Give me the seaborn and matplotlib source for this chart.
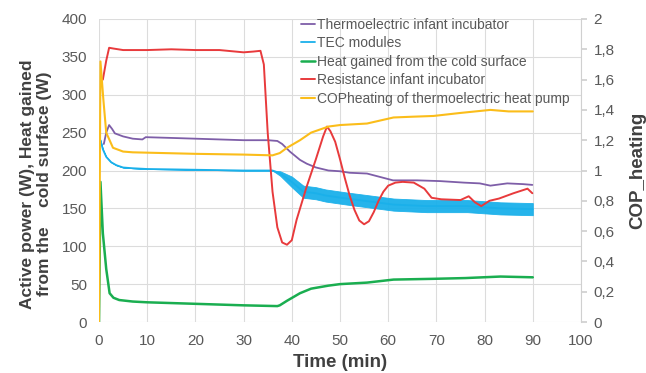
import matplotlib
matplotlib.use("Agg")
import matplotlib.pyplot as plt
import matplotlib.ticker as mticker
import seaborn as sns

# Thermoelectric infant incubator, active power (W)
thermo_t = [1, 1.5, 2.1, 2.7, 3.3, 5, 7, 9, 9.7, 15, 20, 25, 30, 35, 37, 38, 39.6, 41.7, 43.1, 45,
            47.6, 50, 52, 55.6, 58, 61, 66, 70.8, 75.7, 79, 81.2, 84.7, 88, 89.9]
thermo_w = [235, 250, 260, 255, 249, 245, 242, 241, 244, 243, 242, 241, 240, 240, 239, 235, 225, 214, 209, 204,
            200, 199, 197, 196, 192, 187, 187, 186, 184, 183, 180, 183, 182, 181]

# TEC modules, active power (W) and half-width of the noise band
tec_t = [0.3, 0.8, 1.5, 2.5, 3.6, 5, 7, 10, 20, 30, 36, 37.6, 40, 42.4, 45, 47, 51.4, 56.3, 61.1, 68, 76.4, 83.3, 90]
tec_w = [240, 228, 218, 211, 207, 204, 203, 202, 201, 200, 200, 196, 185, 172, 170, 167, 163, 159, 155, 153, 153, 150, 149]
tec_noise = [0, 0, 0, 0, 0, 0, 0, 0, 0, 0, 0, 3, 7, 8, 8, 8, 8, 8, 8, 8, 8, 8, 8]

# Heat gained from the cold surface (W)
cold_t = [0, 0.3, 0.8, 1.5, 2.2, 3, 4.2, 7, 10, 15, 20, 30, 37, 37.5, 39, 41.7, 44, 47.6, 50, 55.6,
          61.1, 69.4, 76, 83.3, 90]
cold_w = [0, 185, 117, 70, 38, 32, 29, 27, 26, 25, 24, 22, 21, 22, 28, 38, 44, 48, 50, 52,
          56, 57, 58, 60, 59]

# Resistance infant incubator, active power (W)
resist_t = [0.8, 1.5, 2.1, 3, 5, 10, 15, 20, 25, 30, 32, 33.5, 34.2, 35, 36, 37, 38, 39, 40, 41, 43, 45,
            46.5, 47.3, 48, 49, 50, 51, 52, 53, 54, 55, 56, 57, 58, 59, 60, 61.5, 63, 65.3, 67.5, 69,
            71, 75, 76.7, 78, 79.3, 81, 83, 86, 88.9, 89.9]
resist_w = [320, 345, 362, 361, 359, 359, 360, 359, 359, 356, 357, 358, 340, 250, 172, 125, 105, 102, 108, 135,
            177, 215, 245, 258, 252, 238, 215, 190, 167, 148, 134, 129, 133, 145, 160, 172, 180, 184, 185, 184,
            176, 164, 162, 161, 166, 158, 153, 160, 163, 170, 176, 170]

# COP heating of thermoelectric heat pump (right axis)
cop_t = [0, 0.3, 0.9, 1.5, 2.9, 5, 7, 20, 30, 36, 37.5, 39, 41.7, 44, 47.6, 50, 55.6, 61.1, 65, 69.4,
         75, 81.2, 85, 90]
cop_v = [0, 1.72, 1.47, 1.25, 1.15, 1.125, 1.12, 1.11, 1.105, 1.10, 1.115, 1.15, 1.20, 1.25, 1.29, 1.30, 1.31,
         1.35, 1.355, 1.36, 1.38, 1.40, 1.39, 1.39]

labels = ["Thermoelectric infant incubator", "TEC modules", "Heat gained from the cold surface",
          "Resistance infant incubator", "COPheating of thermoelectric heat pump"]
colors = ["#7e5ea8", "#1ab0ea", "#1aae50", "#e83a3c", "#fbbd1a"]

sns.set_theme(style="white")
plt.rcParams["font.family"] = ["Liberation Sans", "DejaVu Sans"]
tick_col = "#595959"
label_col = "#404040"
grid_col = "#dcdcdc"

fig = plt.figure(figsize=(6.46, 3.73), dpi=100)
ax = fig.add_axes([99 / 646, 1 - 322 / 373, 482 / 646, 303 / 373])
ax2 = ax.twinx()

ax.fill_between(tec_t, [w - n for w, n in zip(tec_w, tec_noise)], [w + n for w, n in zip(tec_w, tec_noise)],
                color=colors[1], linewidth=0.6, alpha=0.95)
sns.lineplot(x=tec_t, y=tec_w, ax=ax, color=colors[1], linewidth=1.3, label=labels[1])
sns.lineplot(x=cold_t, y=cold_w, ax=ax, color=colors[2], linewidth=1.8, label=labels[2])
sns.lineplot(x=thermo_t, y=thermo_w, ax=ax, color=colors[0], linewidth=1.3, label=labels[0])
sns.lineplot(x=resist_t, y=resist_w, ax=ax, color=colors[3], linewidth=1.4, label=labels[3])
sns.lineplot(x=cop_t, y=cop_v, ax=ax2, color=colors[4], linewidth=1.5, label=labels[4])

ax.set_xlim(0, 100)
ax.set_ylim(0, 400)
ax2.set_ylim(0, 2)
ax.set_xticks(range(0, 101, 10))
ax.set_yticks(range(0, 401, 50))
ax2.set_yticks([i / 5 for i in range(11)])
ax2.yaxis.set_major_formatter(mticker.FuncFormatter(lambda v, p: f"{v:g}".replace(".", ",")))

ax.grid(True, color=grid_col, linewidth=0.8)
ax.set_axisbelow(True)
for a in (ax, ax2):
    for s in a.spines.values():
        s.set_visible(False)
ax2.spines["right"].set_visible(True)
ax2.spines["right"].set_color("#d0d0d0")
ax2.spines["right"].set_linewidth(0.8)

ax.tick_params(axis="x", length=0, labelsize=11, labelcolor=tick_col, pad=8.5)
ax.tick_params(axis="y", length=0, labelsize=11, labelcolor=tick_col, pad=8.5)
ax2.tick_params(axis="y", length=4, color="#d0d0d0", labelsize=11, labelcolor=tick_col, pad=5)

ax.set_xlabel("Time (min)", fontsize=13.5, fontweight="bold", color=label_col, labelpad=4.5)
ax.set_ylabel("Active power (W), Heat gained\nfrom the    cold surface (W)", fontsize=12.5,
              fontweight="bold", color=label_col, linespacing=1.15)
ax.yaxis.set_label_coords(-0.097, 0.455)
ax2.set_ylabel("COP_heating", fontsize=13.5, fontweight="bold", color=label_col)
ax2.yaxis.set_label_coords(1.10, 0.5)

h1, l1 = ax.get_legend_handles_labels()
h2, l2 = ax2.get_legend_handles_labels()
handles = dict(zip(l1 + l2, h1 + h2))
ax.get_legend().remove()
ax2.get_legend().remove()
leg = ax2.legend([handles[l] for l in labels], labels, loc="upper left", bbox_to_anchor=(0.42, 1.004),
                 frameon=False, fontsize=10, handlelength=1.0, handletextpad=0.1, labelspacing=0.32,
                 borderpad=0, borderaxespad=0)
for t in leg.get_texts():
    t.set_color(tick_col)

fig.savefig("out.png", dpi=100)
